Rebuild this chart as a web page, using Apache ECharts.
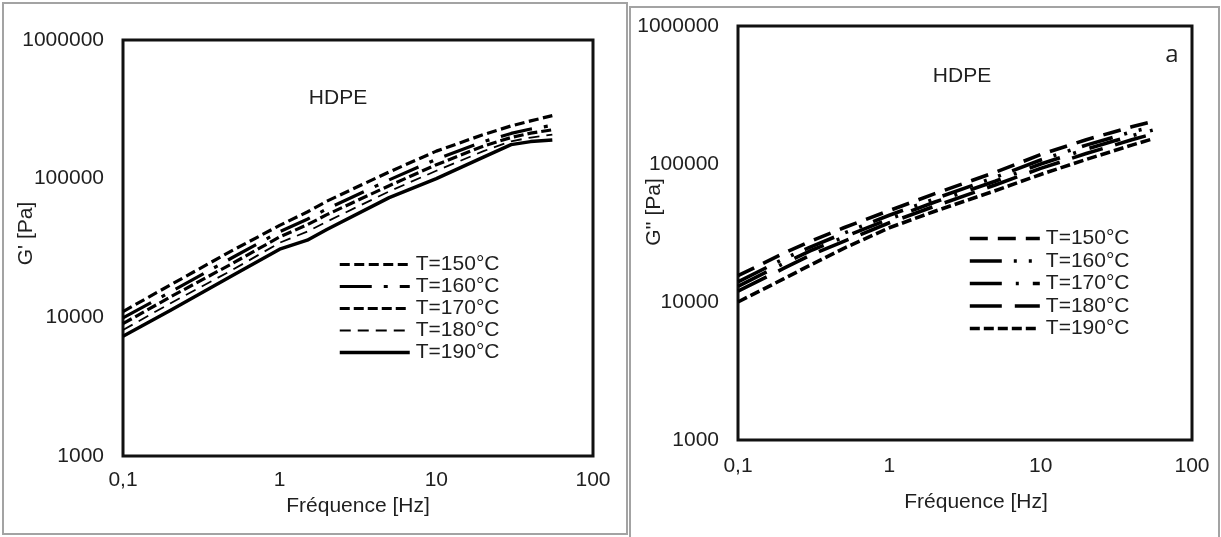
<!DOCTYPE html>
<html>
<head>
<meta charset="utf-8">
<script src="https://cdn.jsdelivr.net/npm/echarts@6/dist/echarts.min.js"></script>
<style>
  html, body { margin: 0; padding: 0; background: #fff; }
  #wrap { position: relative; width: 1221px; height: 537px; overflow: hidden; background: #fff; }
  .frame { position: absolute; border: 2px solid #a3a3a3; box-sizing: border-box; }
  .chart { position: absolute; left: 0; top: 0; width: 1221px; height: 537px; }
</style>
</head>
<body>
<div id="wrap">
  <div class="frame" style="left:2px;top:2px;width:626px;height:533px"></div>
  <div class="frame" style="left:629px;top:6px;width:591px;height:540px"></div>
  <div id="gPrime" class="chart"></div>
  <div id="gSecond" class="chart"></div>
</div>
<script>
// Frequency sweep (Hz)
const freqStorage = [0.1, 0.2, 0.5, 1, 1.5, 2, 5, 10, 20, 30, 40, 55];
const freqLoss    = [0.1, 0.2, 0.3, 0.5, 1, 2, 5, 10, 20, 30, 40, 55];

const seriesNames = ['T=150°C', 'T=160°C', 'T=170°C', 'T=180°C', 'T=190°C'];

// Storage modulus G' (Pa)
const gp150 = [11000, 17100, 30400, 46000, 57500, 68800, 111800, 158000, 208000, 240000, 261000, 285000];
const gp160 = [9900, 15200, 27000, 41500, 51000, 60500, 98000, 138000, 185000, 212000, 228000, 242000];
const gp170 = [9000, 14000, 24500, 38000, 46500, 55000, 89000, 126000, 172000, 198000, 213000, 225000];
const gp180 = [8100, 12600, 22000, 34500, 41500, 49000, 81000, 114000, 158000, 186000, 198000, 208000];
const gp190 = [7300, 11200, 20000, 31000, 36000, 43000, 73000, 100000, 143000, 176000, 185000, 190000];

// Loss modulus G'' (Pa)
const gs150 = [15500, 22500, 27500, 34500, 46000, 61000, 87000, 117000, 150000, 170000, 186000, 203000];
const gs160 = [14000, 20500, 25000, 31500, 42500, 56000, 80000, 107000, 137000, 156000, 171000, 186000];
const gs170 = [13000, 19000, 23500, 29500, 40000, 53000, 75000, 100000, 128000, 146000, 160000, 176000];
const gs180 = [12000, 17500, 21800, 27500, 37500, 49500, 70500, 93000, 119000, 136000, 150000, 165000];
const gs190 = [10000, 14700, 18500, 24500, 34500, 45500, 64000, 84000, 108000, 124000, 137000, 152000];

// Stroke styles per temperature, one list per panel
const primeWidths = [3.2, 3.2, 3.2, 1.8, 3.5];
const primeDashes = [[10, 4.5], [32, 12, 4, 12], [10, 4], [11, 7], 'solid'];
const secondWidths = [3.6, 3.6, 3.6, 3.6, 3.6];
const secondDashes = [[18, 10], [32, 12, 3, 12, 3, 12], [32, 14, 3, 14], [32, 13], [10, 4]];

const FONT = '"Liberation Sans", Arial, sans-serif';
const INK = '#1f1f1f';
const FS = 21;

function pairs(xs, ys) { return xs.map((x, i) => [x, ys[i]]); }
function decimalComma(v) { return String(v).replace('.', ','); }

function xAxisCfg(labelMargin, nameGap, namePad) {
  return {
    type: 'log', logBase: 10, min: 0.1, max: 100,
    axisLine: { show: false }, axisTick: { show: false },
    splitLine: { show: false }, minorTick: { show: false },
    axisLabel: { formatter: decimalComma, margin: labelMargin, fontSize: FS, fontFamily: FONT, color: INK },
    name: 'Fréquence [Hz]', nameLocation: 'middle', nameGap: nameGap, nameMoveOverlap: false,
    nameTextStyle: { fontSize: FS, fontFamily: FONT, color: INK, padding: namePad }
  };
}

function yAxisCfg(name, labelMargin, nameGap, namePad) {
  return {
    type: 'log', logBase: 10, min: 1000, max: 1000000,
    axisLine: { show: false }, axisTick: { show: false },
    splitLine: { show: false }, minorTick: { show: false },
    axisLabel: { formatter: v => String(v), margin: labelMargin, fontSize: FS, fontFamily: FONT, color: INK },
    name: name, nameLocation: 'middle', nameRotate: 90, nameGap: nameGap, nameMoveOverlap: false,
    nameTextStyle: { fontSize: FS, fontFamily: FONT, color: INK, padding: namePad }
  };
}

function lineSeries(name, xs, ys, width, dash) {
  return {
    name: name, type: 'line', data: pairs(xs, ys),
    symbol: 'none', smooth: false, clip: true,
    lineStyle: { color: '#000', width: width, type: dash, cap: 'butt', join: 'round' },
    itemStyle: { color: '#000' },
    emphasis: { disabled: true }
  };
}

function legendCfg(left, top, gap, widths, dashes) {
  return {
    orient: 'vertical', left: left, top: top, padding: 0,
    itemWidth: 70, itemHeight: 14, itemGap: gap,
    selectedMode: false,
    itemStyle: { opacity: 0 },
    textStyle: { fontSize: FS, fontFamily: FONT, color: INK, padding: [0, 0, 0, 1] },
    data: seriesNames.map((n, i) => ({
      name: n,
      lineStyle: { color: '#000', width: widths[i], type: dashes[i], cap: 'butt' },
      itemStyle: { opacity: 0 }
    }))
  };
}

// G' panel
const chartPrime = echarts.init(document.getElementById('gPrime'), null, { renderer: 'canvas' });
chartPrime.setOption({
  animation: false,
  backgroundColor: 'transparent',
  grid: { show: true, left: 123, top: 40, width: 470, height: 416, outerBoundsMode: 'none', containLabel: false,
          borderColor: '#111', borderWidth: 3, backgroundColor: 'transparent' },
  xAxis: xAxisCfg(14, 40, [0, 0, 0, 0]),
  yAxis: yAxisCfg("G' [Pa]", 19, 86, [0, 0, 0, 29]),
  legend: legendCfg(338, 254, 1, primeWidths, primeDashes),
  graphic: [
    { type: 'text', x: 338, y: 98, style: { text: 'HDPE', fontSize: FS, fontFamily: FONT, fill: INK, align: 'center', verticalAlign: 'middle' } }
  ],
  series: seriesNames.map((n, i) =>
    lineSeries(n, freqStorage, [gp150, gp160, gp170, gp180, gp190][i], primeWidths[i], primeDashes[i]))
});

// G'' panel
const chartSecond = echarts.init(document.getElementById('gSecond'), null, { renderer: 'canvas' });
chartSecond.setOption({
  animation: false,
  backgroundColor: 'transparent',
  grid: { show: true, left: 738, top: 26, width: 454, height: 414, outerBoundsMode: 'none', containLabel: false,
          borderColor: '#111', borderWidth: 3, backgroundColor: 'transparent' },
  xAxis: xAxisCfg(16, 52, [0, 0, 0, 22]),
  yAxis: yAxisCfg("G'' [Pa]", 19, 73, [0, 0, 0, 42]),
  legend: legendCfg(968, 228, 1.5, secondWidths, secondDashes),
  graphic: [
    { type: 'text', x: 962, y: 76, style: { text: 'HDPE', fontSize: FS, fontFamily: FONT, fill: INK, align: 'center', verticalAlign: 'middle' } },
    { type: 'text', x: 1172, y: 55, style: { text: 'a', fontSize: 24, fontFamily: '"Open Sans", sans-serif', fill: INK, align: 'center', verticalAlign: 'middle' } }
  ],
  series: seriesNames.map((n, i) =>
    lineSeries(n, freqLoss, [gs150, gs160, gs170, gs180, gs190][i], secondWidths[i], secondDashes[i]))
});
</script>
</body>
</html>
